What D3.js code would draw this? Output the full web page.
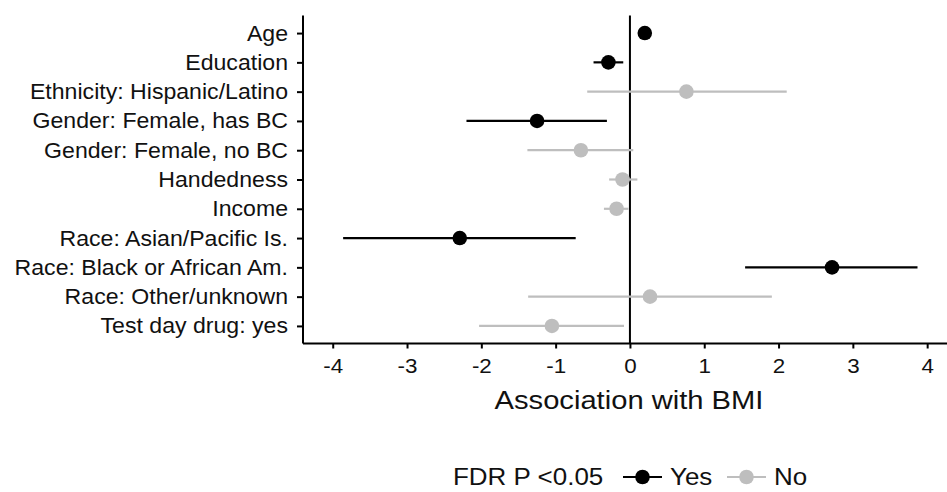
<!DOCTYPE html>
<html>
<head>
<meta charset="utf-8">
<script src="https://cdn.jsdelivr.net/npm/d3@7/dist/d3.min.js"></script>
<style>
  html, body { margin: 0; padding: 0; background: #fff; }
  svg { display: block; }
  text { font-family: "Liberation Sans", Arial, sans-serif; fill: #111; }
</style>
</head>
<body>
<svg id="chart" width="947" height="492"></svg>
<script>
const categories = [
  "Age", "Education", "Ethnicity: Hispanic/Latino", "Gender: Female, has BC",
  "Gender: Female, no BC", "Handedness", "Income", "Race: Asian/Pacific Is.",
  "Race: Black or African Am.", "Race: Other/unknown", "Test day drug: yes"
];
const estimates = [0.20, -0.29, 0.76, -1.25, -0.66, -0.10, -0.18, -2.29, 2.72, 0.27, -1.05];
const ciLow     = [0.15, -0.49, -0.575, -2.20, -1.38, -0.28, -0.35, -3.86, 1.55, -1.37, -2.03];
const ciHigh    = [0.25, -0.09, 2.11, -0.31, 0.045, 0.10, -0.02, -0.73, 3.87, 1.91, -0.08];
const significant = ["Yes", "Yes", "No", "Yes", "No", "No", "No", "Yes", "Yes", "No", "No"];
const xTicks = [-4, -3, -2, -1, 0, 1, 2, 3, 4];
const legendTitle = "FDR P <0.05";
const legendLevels = ["Yes", "No"];
const xTitle = "Association with BMI";

const colors = { "Yes": "#000000", "No": "#BEBEBE" };

const svg = d3.select("#chart");
const pLeft = 303, pRight = 947, pTop = 15.5, pBottom = 343.5;

const x = d3.scaleLinear().domain([-4.40, 4.267]).range([pLeft, pRight]);
const y = d3.scalePoint().domain(categories).range([pTop, pBottom]).padding(0.6);

const rows = categories.map((c, i) => ({
  cat: c, est: estimates[i], lo: ciLow[i], hi: ciHigh[i], sig: significant[i]
}));

// zero line
svg.append("line")
  .attr("x1", x(0)).attr("x2", x(0))
  .attr("y1", pTop).attr("y2", pBottom)
  .attr("stroke", "#000").attr("stroke-width", 2);

// error bars
svg.append("g").selectAll("line").data(rows).join("line")
  .attr("x1", d => x(d.lo)).attr("x2", d => x(d.hi))
  .attr("y1", d => y(d.cat)).attr("y2", d => y(d.cat))
  .attr("stroke", d => colors[d.sig]).attr("stroke-width", 2.2);

// points
svg.append("g").selectAll("circle").data(rows).join("circle")
  .attr("cx", d => x(d.est)).attr("cy", d => y(d.cat))
  .attr("r", 7.3)
  .attr("fill", d => colors[d.sig]);

// x axis
const TX = 1.12;
const xAxis = svg.append("g")
  .attr("transform", `translate(0,${pBottom})`)
  .call(d3.axisBottom(x).tickValues(xTicks).tickSize(5).tickPadding(10).tickFormat(d3.format("d")));
xAxis.select(".domain").attr("stroke", "#000").attr("stroke-width", 2)
  .attr("d", `M${pLeft},0H${pRight}`);
xAxis.selectAll(".tick line").attr("stroke", "#000").attr("stroke-width", 2);
xAxis.selectAll(".tick text")
  .attr("font-size", 20).attr("fill", "#111")
  .attr("font-family", "Liberation Sans, Arial, sans-serif")
  .attr("transform", `scale(${TX},1)`)
  .text(d => d < 0 ? "-" + Math.abs(d) : d);

// y axis
const YX = 1.06;
const yAxis = svg.append("g")
  .attr("transform", `translate(${pLeft},0)`)
  .call(d3.axisLeft(y).tickSize(6).tickPadding(4));
yAxis.select(".domain").attr("stroke", "#000").attr("stroke-width", 2)
  .attr("d", `M0,${pTop}V${pBottom}`);
yAxis.selectAll(".tick line").attr("stroke", "#000").attr("stroke-width", 2);
yAxis.selectAll(".tick text")
  .attr("font-size", 21.8).attr("fill", "#111")
  .attr("font-family", "Liberation Sans, Arial, sans-serif")
  .attr("x", -15 / YX)
  .attr("transform", `scale(${YX},1)`);

// x title
svg.append("text")
  .attr("transform", `translate(${(pLeft + pRight) / 2 + 4},409) scale(1.1,1)`)
  .attr("text-anchor", "middle")
  .attr("font-size", 26.5)
  .text(xTitle);

// legend
const LX = 1.1;
const lg = svg.append("g").attr("transform", "translate(0,477)");
lg.append("text")
  .attr("transform", `translate(453,8) scale(${LX},1)`)
  .attr("font-size", 23.6)
  .text(legendTitle);
const keyX = [623, 727];
legendLevels.forEach((lv, i) => {
  const kx = keyX[i];
  lg.append("line").attr("x1", kx).attr("x2", kx + 39).attr("y1", 0).attr("y2", 0)
    .attr("stroke", colors[lv]).attr("stroke-width", 2.2);
  lg.append("circle").attr("cx", kx + 19.5).attr("cy", 0).attr("r", 7.3).attr("fill", colors[lv]);
  lg.append("text")
    .attr("transform", `translate(${kx + 47},8) scale(${LX},1)`)
    .attr("font-size", 23.6)
    .text(lv);
});
</script>
</body>
</html>
